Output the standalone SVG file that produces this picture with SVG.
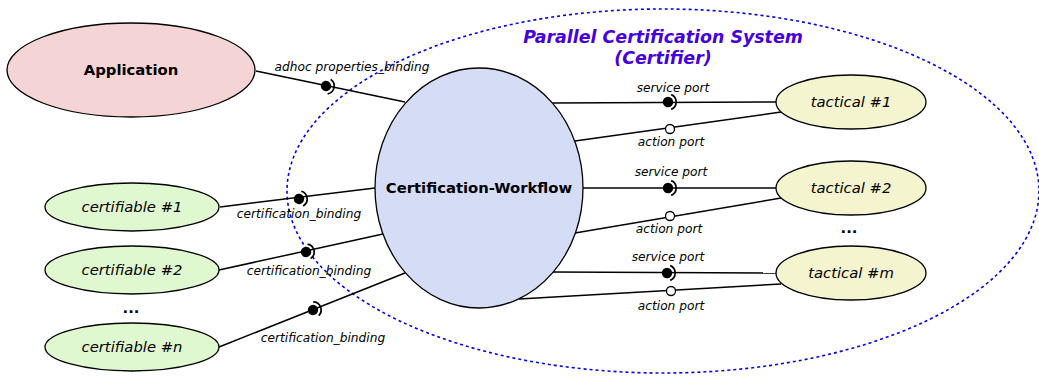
<svg xmlns="http://www.w3.org/2000/svg" width="1039" height="377" viewBox="0 0 1039 377">
  <defs>
    <style>
      .node { stroke: #000; stroke-width: 1.3; }
      .app { fill: #f4d4d4; }
      .wf { fill: #d5dcf5; }
      .tac { fill: #f4f4cf; }
      .cert { fill: #e0f8d0; }
      .lbl { font-family: "DejaVu Sans", sans-serif; font-size: 14.8px; text-anchor: middle; fill: #000; }
      .ital { font-style: italic; }
      .bold { font-weight: bold; }
      .small { font-family: "DejaVu Sans", sans-serif; font-size: 12.2px; font-style: italic; text-anchor: middle; fill: #000; }
      .wire { stroke: #000; stroke-width: 1.5; fill: none; }
      .ball { fill: #000; }
      .socket { stroke: #000; stroke-width: 1.7; fill: none; }
      .port { fill: #fff; stroke: #000; stroke-width: 1.3; }
      .title { font-family: "DejaVu Sans", sans-serif; font-size: 17.4px; font-weight: bold; font-style: italic; fill: #4400dd; text-anchor: middle; }
    </style>
    <!-- ball-and-socket symbol, socket opening toward the ball from the +x side -->
    <g id="bs">
      <circle class="ball" r="5.2"/>
      <path class="socket" d="M3.2,-7.4 A8,8 0 0 1 3.2,7.4"/>
    </g>
  </defs>
  <rect width="1039" height="377" fill="#fff"/>

  <!-- system boundary -->
  <g id="system">
    <ellipse cx="663" cy="191" rx="376" ry="182" fill="none" stroke="#0000ee" stroke-width="1.6" stroke-dasharray="3,3"/>
    <text class="title" x="663" y="43">Parallel Certification System</text>
    <text class="title" x="663" y="64">(Certifier)</text>
  </g>

  <!-- connectors -->
  <g id="connectors">
    <line class="wire" x1="256" y1="71" x2="405" y2="102"/>
    <line class="wire" x1="220" y1="207" x2="375" y2="188"/>
    <line class="wire" x1="219" y1="270" x2="383" y2="234"/>
    <line class="wire" x1="219" y1="347" x2="405" y2="273"/>
    <line class="wire" x1="553" y1="103" x2="776" y2="102"/>
    <line class="wire" x1="575" y1="141" x2="781" y2="112"/>
    <line class="wire" x1="583" y1="188" x2="776" y2="188"/>
    <line class="wire" x1="575" y1="233" x2="781" y2="198"/>
    <line class="wire" x1="553" y1="272" x2="776" y2="273"/>
    <line class="wire" x1="519" y1="299" x2="781" y2="284"/>

    <use href="#bs" transform="translate(326,86) rotate(11.75)"/>
    <use href="#bs" transform="translate(299,199) rotate(-7)"/>
    <use href="#bs" transform="translate(306,252) rotate(-12.4)"/>
    <use href="#bs" transform="translate(313,310) rotate(-21.7)"/>
    <use href="#bs" transform="translate(668,102)"/>
    <use href="#bs" transform="translate(668,188)"/>
    <use href="#bs" transform="translate(667,273)"/>

    <circle class="port" cx="670" cy="129" r="4.5"/>
    <circle class="port" cx="670" cy="216" r="4.5"/>
    <circle class="port" cx="671" cy="291" r="4.5"/>

    <text class="small" x="352" y="71">adhoc properties_binding</text>
    <text class="small" x="299" y="218">certification_binding</text>
    <text class="small" x="309" y="275">certification_binding</text>
    <text class="small" x="323" y="342">certification_binding</text>
    <text class="small" x="673" y="92">service port</text>
    <text class="small" x="671" y="146">action port</text>
    <text class="small" x="671" y="176">service port</text>
    <text class="small" x="669" y="233">action port</text>
    <text class="small" x="668" y="261">service port</text>
    <text class="small" x="671" y="310">action port</text>
  </g>

  <g id="application">
    <ellipse class="node app" cx="131" cy="70" rx="124" ry="47"/>
    <text class="lbl bold" x="131" y="75">Application</text>
  </g>

  <g id="workflow">
    <ellipse class="node wf" cx="479" cy="188" rx="104" ry="120"/>
    <text class="lbl bold" x="479" y="193">Certification-Workflow</text>
  </g>

  <g id="tactical-1">
    <ellipse class="node tac" cx="851" cy="102" rx="75" ry="27"/>
    <text class="lbl ital" x="851" y="107">tactical #1</text>
  </g>
  <g id="tactical-2">
    <ellipse class="node tac" cx="851" cy="188" rx="75" ry="27"/>
    <text class="lbl ital" x="851" y="193">tactical #2</text>
  </g>
  <g id="tactical-m">
    <ellipse class="node tac" cx="851" cy="273" rx="75" ry="27"/>
    <text class="lbl ital" x="851" y="278">tactical #m</text>
  </g>
  <text class="lbl bold" x="849" y="233">...</text>

  <g id="certifiable-1">
    <ellipse class="node cert" cx="132" cy="207" rx="87" ry="24"/>
    <text class="lbl ital" x="132" y="212">certifiable #1</text>
  </g>
  <g id="certifiable-2">
    <ellipse class="node cert" cx="132" cy="270" rx="87" ry="24"/>
    <text class="lbl ital" x="132" y="275">certifiable #2</text>
  </g>
  <g id="certifiable-n">
    <ellipse class="node cert" cx="132" cy="347" rx="87" ry="24"/>
    <text class="lbl ital" x="132" y="352">certifiable #n</text>
  </g>
  <text class="lbl bold" x="131" y="313">...</text>
</svg>
